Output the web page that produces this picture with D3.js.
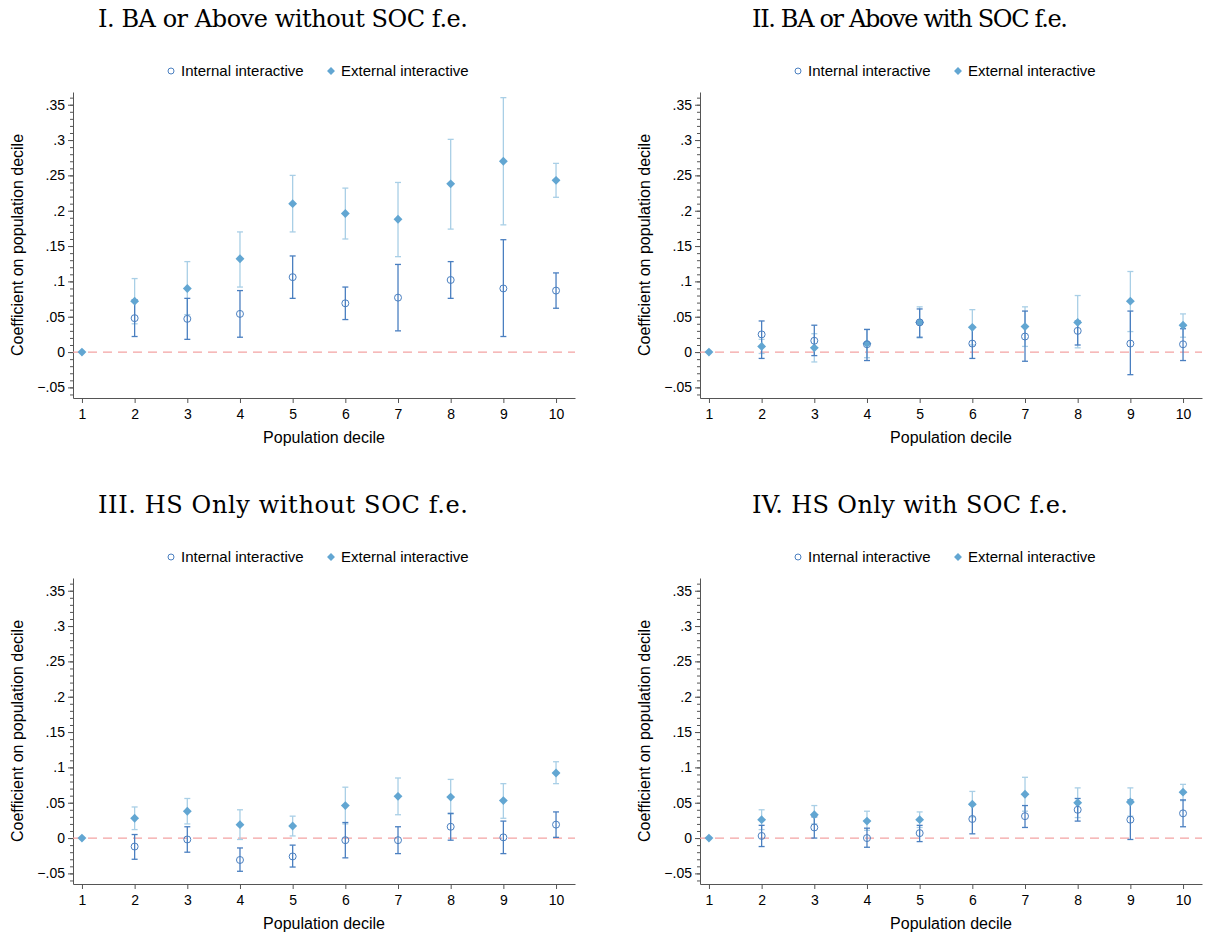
<!DOCTYPE html>
<html><head><meta charset="utf-8">
<script src="https://cdn.jsdelivr.net/npm/d3@7"></script>
<style>body{margin:0;background:#fff}</style>
</head><body><div id="chart"></div>
<script>
const deciles = [1,2,3,4,5,6,7,8,9,10];
const titles = ["I. BA or Above without SOC f.e.","II. BA or Above with SOC f.e.","III. HS Only without SOC f.e.","IV. HS Only with SOC f.e."];
const yTicks = [-.05,0,.05,.1,.15,.2,.25,.3,.35];
// [coef, lo, hi] per decile
const int1 = [[0,0,0],[.048,.022,.074],[.047,.018,.076],[.054,.021,.087],[.106,.076,.136],[.069,.046,.092],[.077,.030,.124],[.102,.076,.128],[.090,.022,.159],[.087,.062,.112]];
const ext1 = [[0,0,0],[.072,.040,.104],[.090,.053,.128],[.132,.092,.170],[.210,.170,.250],[.196,.160,.232],[.188,.135,.240],[.238,.174,.301],[.270,.180,.360],[.243,.219,.267]];
const int2 = [[0,0,0],[.025,-.009,.044],[.016,-.005,.038],[.011,-.012,.032],[.042,.021,.061],[.012,-.009,.035],[.022,-.013,.058],[.030,.010,.044],[.012,-.032,.058],[.011,-.012,.033]];
const ext2 = [[0,0,0],[.008,-.002,.018],[.006,-.014,.026],[.012,-.008,.032],[.042,.020,.064],[.035,.010,.060],[.036,.008,.064],[.042,.006,.080],[.072,.029,.114],[.038,.021,.054]];
const int3 = [[0,0,0],[-.012,-.030,.005],[-.002,-.020,.016],[-.031,-.047,-.014],[-.026,-.041,-.010],[-.003,-.028,.022],[-.003,-.022,.016],[.016,-.003,.035],[.001,-.022,.024],[.019,.001,.037]];
const ext3 = [[0,0,0],[.028,.012,.044],[.038,.020,.056],[.019,-.002,.040],[.017,.003,.031],[.046,.020,.072],[.059,.033,.085],[.058,.034,.083],[.053,.028,.077],[.092,.077,.108]];
const int4 = [[0,0,0],[.003,-.012,.018],[.015,.000,.030],[.000,-.013,.014],[.007,-.005,.018],[.027,.006,.047],[.031,.015,.046],[.040,.024,.056],[.026,-.002,.054],[.035,.016,.054]];
const ext4 = [[0,0,0],[.026,.012,.040],[.033,.020,.046],[.024,.011,.038],[.026,.015,.037],[.048,.030,.066],[.062,.038,.086],[.050,.029,.071],[.051,.031,.071],[.065,.053,.076]];
const panels = [[int1,ext1],[int2,ext2],[int3,ext3],[int4,ext4]];

const W = 1206, H = 939;
const svg = d3.select("#chart").append("svg").attr("width",W).attr("height",H)
  .style("font-family","Liberation Sans, Arial, sans-serif");
const intCol = "#4a7fc0", extCol = "#62a6d2", extCI = "#a9cfe6";

panels.forEach((p, i) => {
  const ox = (i % 2) * 627, oy = Math.floor(i / 2) * 486;
  const g = svg.append("g").attr("transform", `translate(${ox},${oy})`);
  const x = d3.scaleLinear().domain([0.83,10.36]).range([73,575]);
  const y = d3.scaleLinear().domain([-.065,.368]).range([398,92]);

  g.append("text").attr("x",283).attr("y",27).attr("text-anchor","middle")
    .style("font-family","DejaVu Serif, serif").style("font-size","24px").attr("textLength", i%2 ? 316 : 370).text(titles[i]);

  // legend
  const lg = g.append("g").attr("transform","translate(0,71)");
  lg.append("circle").attr("cx",171).attr("cy",0).attr("r",3).attr("fill","none").attr("stroke",intCol);
  lg.append("text").attr("x",181).attr("y",5).style("font-size","15px").text("Internal interactive");
  lg.append("path").attr("d",d3.symbol(d3.symbolDiamond2,40)()).attr("transform","translate(331,0)").attr("fill",extCol);
  lg.append("text").attr("x",341).attr("y",5).style("font-size","15px").text("External interactive");

  const xa = g.append("g").attr("transform","translate(0,398)")
    .call(d3.axisBottom(x).tickValues(deciles).tickSize(5).tickSizeOuter(0));
  xa.selectAll("text").style("font-size","14px").attr("dy","0.9em");
  const ya = g.append("g").attr("transform","translate(73,0)")
    .call(d3.axisLeft(y).tickValues(yTicks).tickSize(5).tickSizeOuter(0)
      .tickFormat(d => d === 0 ? "0" : d3.format(".2f")(d).replace(/0+$/,"").replace("0.",".")));
  ya.selectAll("text").style("font-size","14px");
  g.append("g").attr("transform","translate(73,0)")
    .call(d3.axisLeft(y).tickValues(d3.range(-6,37).map(v => v/100)).tickSize(3).tickFormat(""))
    .select(".domain").remove();
  g.selectAll(".domain").attr("stroke","#555");
  g.selectAll(".tick line").attr("stroke","#555");

  g.append("text").attr("x",324).attr("y",443).attr("text-anchor","middle").style("font-size","16px").text("Population decile");
  g.append("text").attr("transform","translate(23,245) rotate(-90)").attr("text-anchor","middle")
    .style("font-size","16px").text("Coefficient on population decile");

  g.append("line").attr("x1",73).attr("x2",575).attr("y1",y(0)).attr("y2",y(0))
    .attr("stroke","#f4a3a3").attr("stroke-width",1.3).attr("stroke-dasharray","9,6");

  const drawCI = (data, col) => {
    const d = data.map((v,k) => ({dec: deciles[k], v})).filter(e => e.dec > 1);
    const ci = g.append("g").attr("stroke",col).attr("stroke-width",1.3);
    ci.selectAll(".v").data(d).join("line").attr("x1",e=>x(e.dec)).attr("x2",e=>x(e.dec)).attr("y1",e=>y(e.v[1])).attr("y2",e=>y(e.v[2]));
    [1,2].forEach(j => ci.selectAll(".c"+j).data(d).join("line").attr("x1",e=>x(e.dec)-3).attr("x2",e=>x(e.dec)+3).attr("y1",e=>y(e.v[j])).attr("y2",e=>y(e.v[j])));
  };
  drawCI(p[1], extCI);
  drawCI(p[0], intCol);

  g.selectAll(".ext").data(p[1]).join("path")
    .attr("d", d3.symbol(d3.symbolDiamond2, 50)())
    .attr("transform",(v,k)=>`translate(${x(deciles[k])},${y(v[0])})`).attr("fill",extCol);
  g.selectAll(".int").data(p[0]).join("circle").filter((v,k)=>k>0)
    .attr("cx",(v,k)=>x(deciles[k+1])).attr("cy",v=>y(v[0])).attr("r",3.5)
    .attr("fill","none").attr("stroke",intCol).attr("stroke-width",1);
});
</script></body></html>
